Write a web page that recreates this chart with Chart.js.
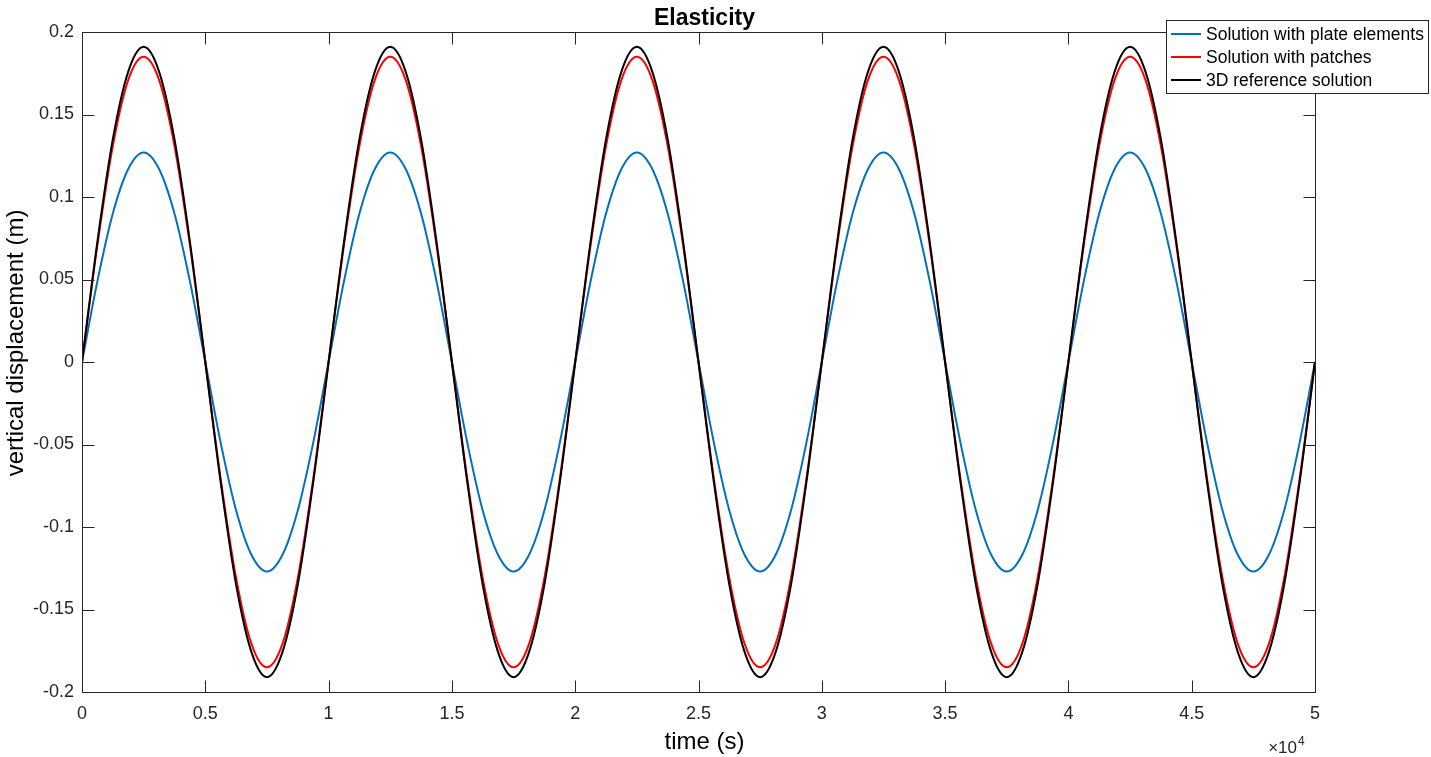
<!DOCTYPE html>
<html>
<head>
<meta charset="utf-8">
<title>Elasticity</title>
<script src="https://cdn.jsdelivr.net/npm/chart.js@4/dist/chart.umd.min.js"></script>
<style>
  html, body { margin: 0; padding: 0; background: #fff; }
  #wrap { width: 1431px; height: 757px; }
</style>
</head>
<body>
<div id="wrap"><canvas id="chart" width="1431" height="757"></canvas></div>
<script>
// time samples (s)
const time = [
  0, 625, 1250, 1875, 2500, 3125, 3750, 4375, 5000, 5625, 6250, 6875, 7500, 8125, 8750, 9375,
  10000, 10625, 11250, 11875, 12500, 13125, 13750, 14375, 15000, 15625, 16250, 16875, 17500, 18125, 18750, 19375,
  20000, 20625, 21250, 21875, 22500, 23125, 23750, 24375, 25000, 25625, 26250, 26875, 27500, 28125, 28750, 29375,
  30000, 30625, 31250, 31875, 32500, 33125, 33750, 34375, 35000, 35625, 36250, 36875, 37500, 38125, 38750, 39375,
  40000, 40625, 41250, 41875, 42500, 43125, 43750, 44375, 45000, 45625, 46250, 46875, 47500, 48125, 48750, 49375,
  50000
];

// vertical displacement (m)
const plateElements = [
  0, 0.049, 0.090, 0.117, 0.127, 0.117, 0.090, 0.049, 0, -0.049, -0.090, -0.117, -0.127, -0.117, -0.090, -0.049,
  0, 0.049, 0.090, 0.117, 0.127, 0.117, 0.090, 0.049, 0, -0.049, -0.090, -0.117, -0.127, -0.117, -0.090, -0.049,
  0, 0.049, 0.090, 0.117, 0.127, 0.117, 0.090, 0.049, 0, -0.049, -0.090, -0.117, -0.127, -0.117, -0.090, -0.049,
  0, 0.049, 0.090, 0.117, 0.127, 0.117, 0.090, 0.049, 0, -0.049, -0.090, -0.117, -0.127, -0.117, -0.090, -0.049,
  0, 0.049, 0.090, 0.117, 0.127, 0.117, 0.090, 0.049, 0, -0.049, -0.090, -0.117, -0.127, -0.117, -0.090, -0.049,
  0
];

const patches = [
  0, 0.071, 0.131, 0.171, 0.185, 0.171, 0.131, 0.071, 0, -0.071, -0.131, -0.171, -0.185, -0.171, -0.131, -0.071,
  0, 0.071, 0.131, 0.171, 0.185, 0.171, 0.131, 0.071, 0, -0.071, -0.131, -0.171, -0.185, -0.171, -0.131, -0.071,
  0, 0.071, 0.131, 0.171, 0.185, 0.171, 0.131, 0.071, 0, -0.071, -0.131, -0.171, -0.185, -0.171, -0.131, -0.071,
  0, 0.071, 0.131, 0.171, 0.185, 0.171, 0.131, 0.071, 0, -0.071, -0.131, -0.171, -0.185, -0.171, -0.131, -0.071,
  0, 0.071, 0.131, 0.171, 0.185, 0.171, 0.131, 0.071, 0, -0.071, -0.131, -0.171, -0.185, -0.171, -0.131, -0.071,
  0
];

const reference3D = [
  0, 0.073, 0.135, 0.176, 0.191, 0.176, 0.135, 0.073, 0, -0.073, -0.135, -0.176, -0.191, -0.176, -0.135, -0.073,
  0, 0.073, 0.135, 0.176, 0.191, 0.176, 0.135, 0.073, 0, -0.073, -0.135, -0.176, -0.191, -0.176, -0.135, -0.073,
  0, 0.073, 0.135, 0.176, 0.191, 0.176, 0.135, 0.073, 0, -0.073, -0.135, -0.176, -0.191, -0.176, -0.135, -0.073,
  0, 0.073, 0.135, 0.176, 0.191, 0.176, 0.135, 0.073, 0, -0.073, -0.135, -0.176, -0.191, -0.176, -0.135, -0.073,
  0, 0.073, 0.135, 0.176, 0.191, 0.176, 0.135, 0.073, 0, -0.073, -0.135, -0.176, -0.191, -0.176, -0.135, -0.073,
  0
];

const seriesLabels = ["Solution with plate elements", "Solution with patches", "3D reference solution"];
const seriesColors = ["#0072BD", "#FF0000", "#000000"];

const xTicks = [0, 5000, 10000, 15000, 20000, 25000, 30000, 35000, 40000, 45000, 50000];
const yTicks = [-0.2, -0.15, -0.1, -0.05, 0, 0.05, 0.1, 0.15, 0.2];

const FONT = "'Liberation Sans', Arial, Helvetica, sans-serif";
const AXIS_COLOR = "#262626";

function toPoints(ys) {
  return time.map((t, i) => ({ x: t, y: ys[i] }));
}

// frame with inward ticks on all four sides, titles, exponent, legend
const matlabAxes = {
  id: "matlabAxes",
  afterDraw(chart) {
    const ctx = chart.ctx;
    const area = chart.chartArea;
    const xs = chart.scales.x;
    const ys = chart.scales.y;
    const L = Math.round(area.left) + 0.5;
    const R = Math.round(area.right) + 0.5;
    const T = Math.round(area.top) + 0.5;
    const B = Math.round(area.bottom) + 0.5;
    const tick = 12;

    ctx.save();
    ctx.strokeStyle = AXIS_COLOR;
    ctx.lineWidth = 1;
    ctx.strokeRect(L, T, R - L, B - T);

    ctx.beginPath();
    xTicks.forEach(v => {
      const px = Math.round(xs.getPixelForValue(v)) + 0.5;
      ctx.moveTo(px, B); ctx.lineTo(px, B - tick);
      ctx.moveTo(px, T); ctx.lineTo(px, T + tick);
    });
    yTicks.forEach(v => {
      const py = Math.round(ys.getPixelForValue(v)) + 0.5;
      ctx.moveTo(L, py); ctx.lineTo(L + tick, py);
      ctx.moveTo(R, py); ctx.lineTo(R - tick, py);
    });
    ctx.stroke();

    const cx = (area.left + area.right) / 2 + 6;

    // title
    ctx.fillStyle = "#000";
    ctx.font = "bold 23px " + FONT;
    ctx.textAlign = "center";
    ctx.textBaseline = "alphabetic";
    ctx.fillText("Elasticity", cx, 25);

    // axis titles
    ctx.font = "24px " + FONT;
    ctx.textBaseline = "middle";
    ctx.fillText("time (s)", cx, 742);
    ctx.save();
    ctx.translate(16, (area.top + area.bottom) / 2 - 19);
    ctx.rotate(-Math.PI / 2);
    ctx.fillText("vertical displacement (m)", 0, 0);
    ctx.restore();

    // x exponent
    ctx.fillStyle = AXIS_COLOR;
    ctx.textBaseline = "alphabetic";
    ctx.font = "17px " + FONT;
    ctx.textAlign = "right";
    ctx.fillText("\u00d710", area.right - 18, 753);
    ctx.font = "12px " + FONT;
    ctx.textAlign = "left";
    ctx.fillText("4", area.right - 17, 745);

    // legend
    const bx = 1166.5, by = 20.5, bw = 262, bh = 73;
    ctx.fillStyle = "#fff";
    ctx.fillRect(bx, by, bw, bh);
    ctx.strokeStyle = AXIS_COLOR;
    ctx.strokeRect(bx, by, bw, bh);
    ctx.font = "17.5px " + FONT;
    ctx.textBaseline = "middle";
    ctx.textAlign = "left";
    chart.data.datasets.forEach((ds, i) => {
      const y = 34 + i * 23;
      ctx.strokeStyle = ds.borderColor;
      ctx.lineWidth = 2;
      ctx.beginPath();
      ctx.moveTo(1171, y);
      ctx.lineTo(1201, y);
      ctx.stroke();
      ctx.fillStyle = "#000";
      ctx.fillText(ds.label, 1206, y + 1);
    });
    ctx.restore();
  }
};

const datasets = [plateElements, patches, reference3D].map((ys, i) => ({
  label: seriesLabels[i],
  data: toPoints(ys),
  borderColor: seriesColors[i],
  backgroundColor: seriesColors[i],
  borderWidth: 2,
  pointRadius: 0,
  fill: false,
  cubicInterpolationMode: "monotone",
  order: 2 - i
}));

new Chart(document.getElementById("chart"), {
  type: "line",
  data: { datasets: datasets },
  options: {
    responsive: false,
    animation: false,
    events: [],
    layout: { padding: { left: 0, right: 116, top: 32, bottom: 0 } },
    plugins: {
      legend: { display: false },
      title: { display: false },
      tooltip: { enabled: false }
    },
    scales: {
      x: {
        type: "linear",
        min: 0,
        max: 50000,
        afterFit(scale) { scale.height = 65; },
        afterBuildTicks(scale) { scale.ticks = xTicks.map(v => ({ value: v })); },
        grid: { display: false, drawTicks: false },
        border: { display: false },
        ticks: {
          padding: 11,
          color: AXIS_COLOR,
          font: { family: FONT, size: 18 },
          maxRotation: 0,
          autoSkip: false,
          callback: v => String(+(v / 10000).toFixed(2))
        }
      },
      y: {
        type: "linear",
        min: -0.2,
        max: 0.2,
        afterFit(scale) { scale.width = 82; },
        afterBuildTicks(scale) { scale.ticks = yTicks.map(v => ({ value: v })); },
        grid: { display: false, drawTicks: false },
        border: { display: false },
        ticks: {
          padding: 8,
          color: AXIS_COLOR,
          font: { family: FONT, size: 18 },
          autoSkip: false,
          callback: v => String(+v.toFixed(2))
        }
      }
    }
  },
  plugins: [matlabAxes]
});
</script>
</body>
</html>
